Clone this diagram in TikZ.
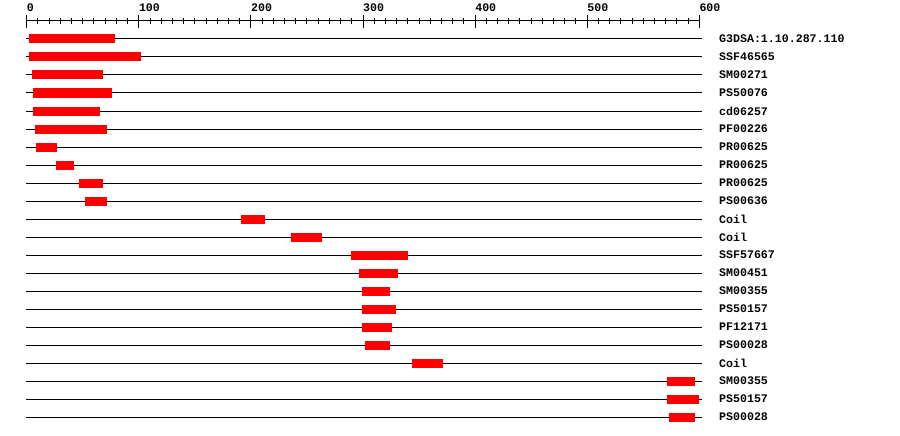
\documentclass[tikz,border=0pt]{standalone}
\usepackage{fontspec}
\setmonofont{Liberation Mono}
\usepackage{xcolor}
\definecolor{hitred}{RGB}{255,0,0}
\usetikzlibrary{positioning}

\begin{document}
\begin{tikzpicture}[
  x=1pt, y=-1pt,
  every node/.style={font=\ttfamily\bfseries\fontsize{11.6}{12}\selectfont,inner sep=0pt},
  axisline/.style={line width=1pt,black},
  majortick/.style={line width=1pt,black},
  minortick/.style={line width=1pt,black},
  trackline/.style={line width=1pt,black},
  hitbar/.style={fill=hitred,draw=none},
  hitlabel/.style={anchor=west},
]
  \useasboundingbox[fill=white] (0,0) rectangle (900,436);

  \begin{scope}[x=1.121pt, xshift=26.7pt]
    % Axis
    \draw[axisline] (0,20.7) coordinate (axL) -- (600,20.7) coordinate (axR);
    \foreach \t in {0,10,...,600}
      \draw[minortick] (\t,17.7) -- (\t,24);
    \foreach \t in {0,100,...,600} {
      \draw[majortick] (\t,15) -- (\t,28);
      \node[anchor=base west] (tick\t) at (\t,12) {\t};
    }

    % Tracks and hits
    \foreach \a/\b/\name [count=\i] in {
        2/79/G3DSA:1.10.287.110,
        2/102/SSF46565,
        5/68/SM00271,
        6/76/PS50076,
        6/65/cd06257,
        7/72/PF00226,
        8.3/27/PR00625,
        26/42/PR00625,
        46.7/68/PR00625,
        52/71.6/PS00636,
        191/213/Coil,
        236/263/Coil,
        289/340/SSF57667,
        296.5/331/SM00451,
        299/324/SM00355,
        299/329/PS50157,
        299/326/PF12171,
        301.8/324/PS00028,
        343.7/371/Coil,
        571/596/SM00355,
        571/600/PS50157,
        573/596/PS00028} {
      \pgfmathsetmacro{\yy}{39+18*(\i-1)}
      \draw[trackline] (-0.6,\yy) -- (602,\yy);
      \fill[hitbar] (\a,\yy-4.5) rectangle (\b,\yy+4.5);
      \node[hitlabel] (lab\i) at (617.6,\yy) {\name};
    }
  \end{scope}
\end{tikzpicture}
\end{document}
